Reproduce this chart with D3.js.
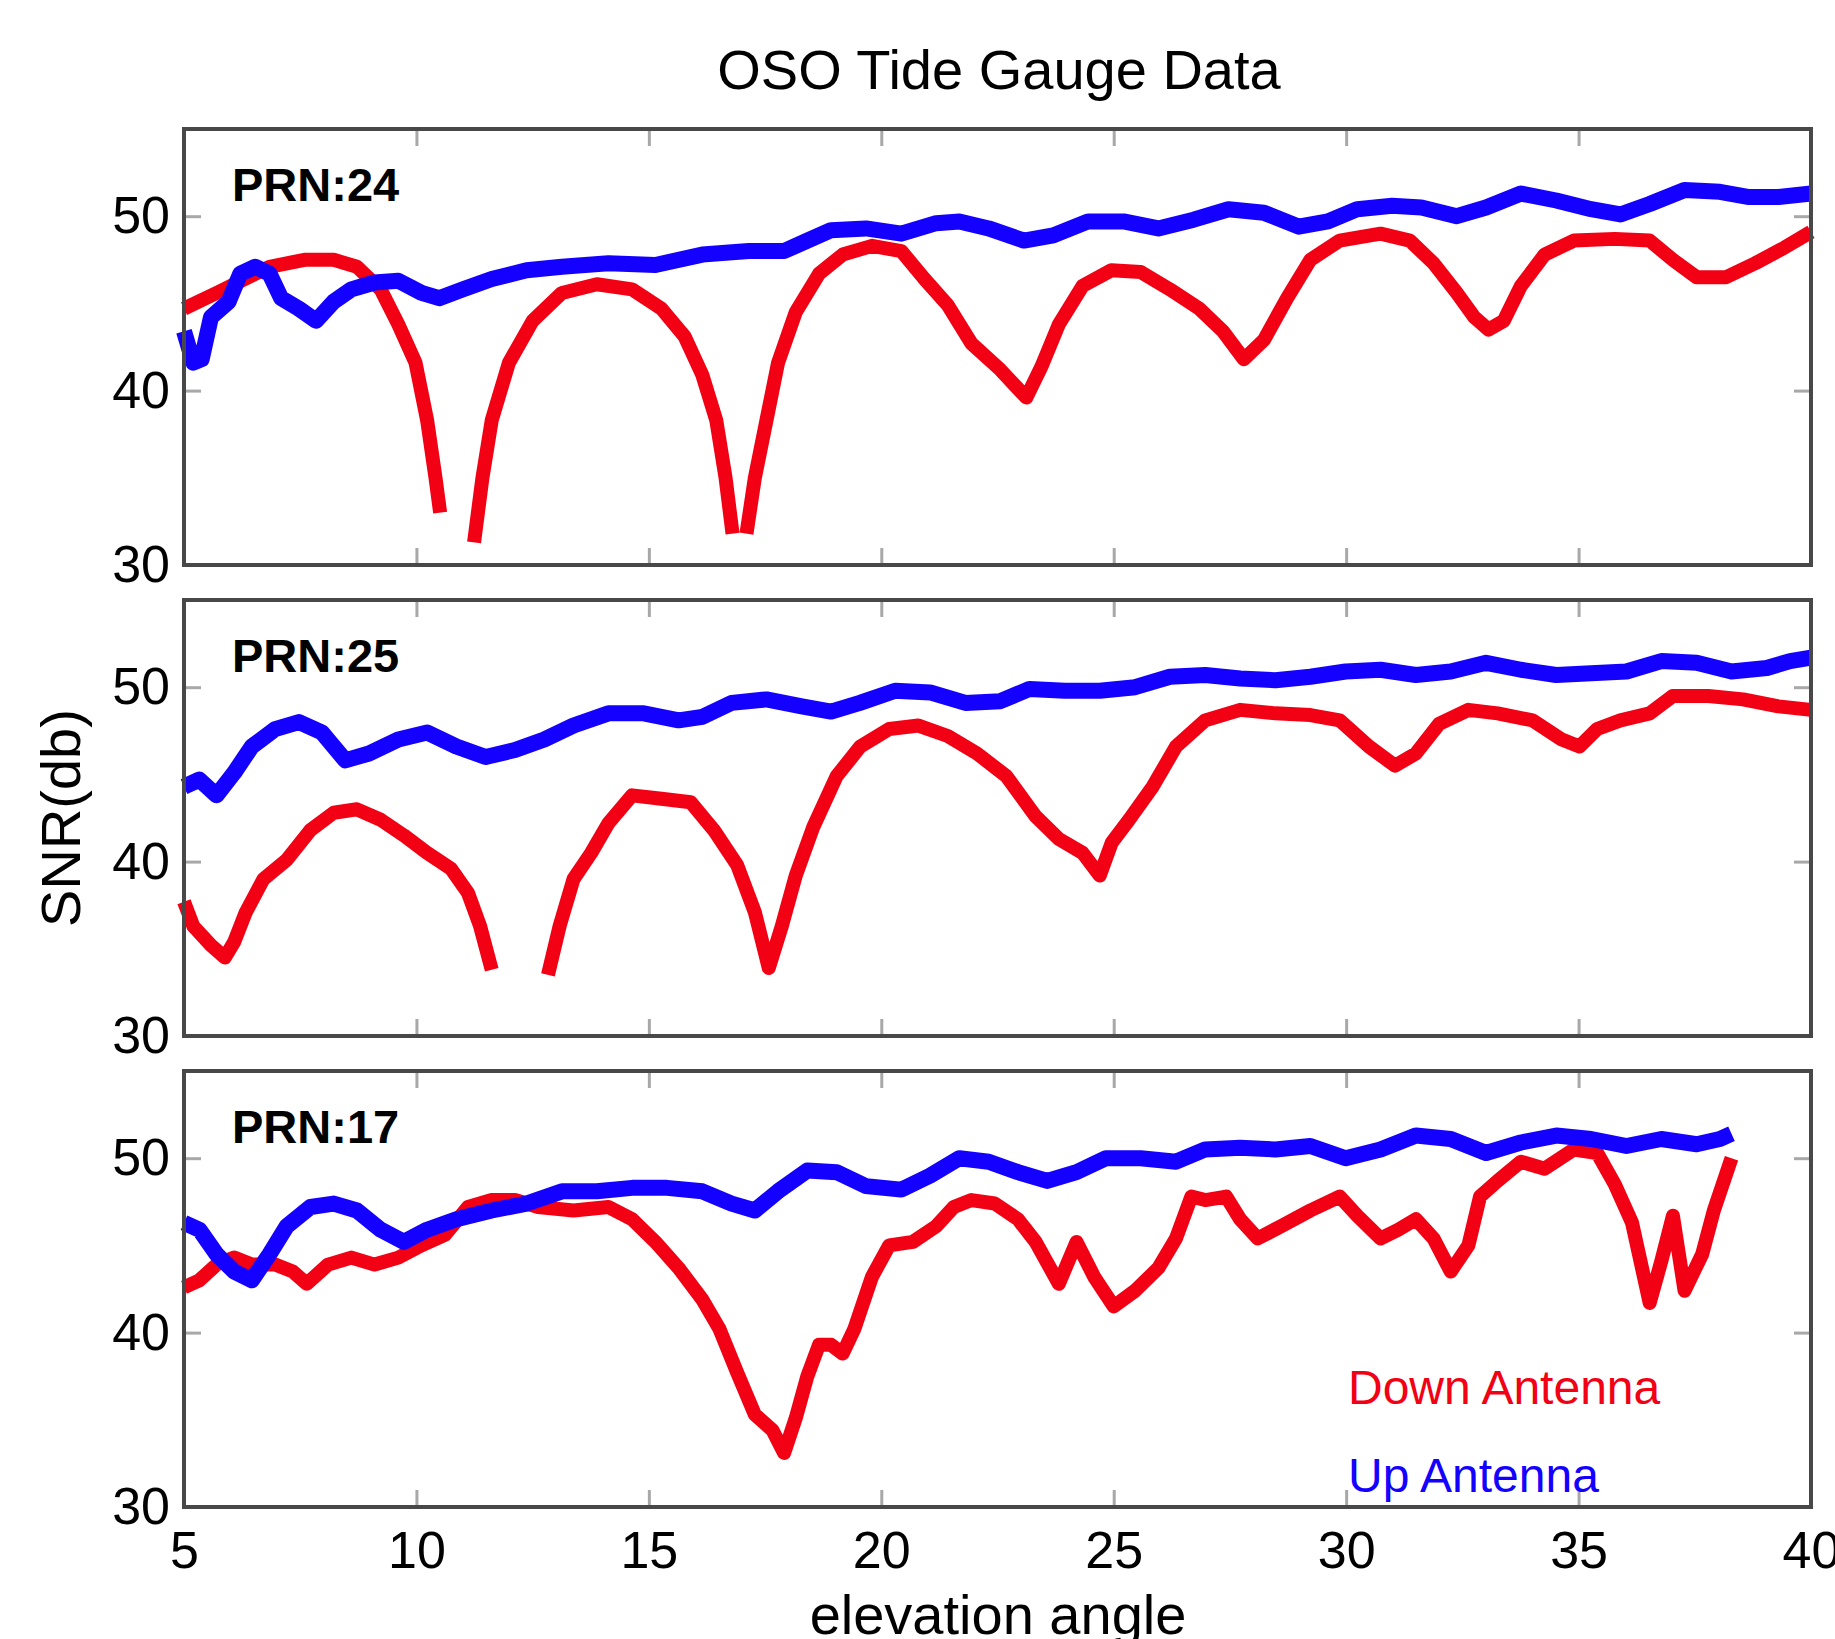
<!DOCTYPE html>
<html>
<head>
<meta charset="utf-8">
<script src="https://cdn.jsdelivr.net/npm/d3@7"></script>
<style>
  body { margin: 0; background: #fff; }
  svg { display: block; font-family: "Liberation Sans", Arial, Helvetica, sans-serif; }
</style>
</head>
<body>
<div class="container"></div>
<script>
/* Elevation angle vs SNR, [elevation, snr]; null = gap in the track */
const prn24Down = [[5.00,44.7],[5.70,45.6],[6.08,46.1],[6.84,47.1],[7.59,47.5],[8.22,47.5],[8.72,47.1],[9.23,45.8],[9.61,43.8],[9.98,41.6],[10.23,38.3],[10.41,35.0],[10.51,33.0],[10.8,null],
  [11.24,31.3],[11.42,35.0],[11.62,38.3],[11.99,41.6],[12.50,44.0],[13.13,45.6],[13.88,46.1],[14.64,45.8],[15.27,44.7],[15.77,43.1],[16.15,40.9],[16.45,38.3],[16.65,35.0],[16.80,31.8],[16.95,null],
  [17.10,31.8],[17.28,35.0],[17.53,38.3],[17.78,41.6],[18.16,44.5],[18.66,46.7],[19.17,47.8],[19.80,48.3],[20.43,48.0],[20.93,46.4],[21.43,44.9],[21.94,42.7],[22.56,41.2],[23.12,39.6],[23.45,41.4],[23.82,43.8],[24.33,46.0],[24.95,46.9],[25.58,46.8],[26.21,45.8],[26.84,44.7],[27.35,43.4],[27.80,41.8],[28.23,42.9],[28.73,45.3],[29.23,47.5],[29.86,48.6],[30.74,49.0],[31.37,48.6],[31.88,47.3],[32.38,45.6],[32.76,44.2],[33.06,43.5],[33.39,44.0],[33.76,46.0],[34.27,47.8],[34.90,48.6],[35.78,48.7],[36.53,48.6],[37.03,47.5],[37.54,46.5],[38.17,46.5],[38.80,47.3],[39.43,48.2],[40.00,49.1]];
const prn24Up = [[5.00,43.4],[5.20,41.6],[5.38,41.8],[5.58,44.2],[5.96,45.1],[6.21,46.7],[6.53,47.1],[6.84,46.7],[7.09,45.3],[7.47,44.7],[7.84,44.0],[8.22,45.1],[8.60,45.8],[9.10,46.2],[9.61,46.3],[10.11,45.6],[10.49,45.3],[10.99,45.8],[11.62,46.4],[12.37,46.9],[13.13,47.1],[14.13,47.3],[15.14,47.2],[16.15,47.8],[17.15,48.0],[17.91,48.0],[18.41,48.6],[18.92,49.2],[19.67,49.3],[20.43,49.0],[21.18,49.6],[21.68,49.7],[22.31,49.3],[23.07,48.6],[23.70,48.9],[24.45,49.7],[25.21,49.7],[25.96,49.3],[26.72,49.8],[27.47,50.4],[28.23,50.2],[28.98,49.4],[29.61,49.7],[30.24,50.4],[30.99,50.6],[31.62,50.5],[32.38,50.0],[33.01,50.5],[33.76,51.3],[34.52,50.9],[35.27,50.4],[35.90,50.1],[36.53,50.7],[37.28,51.5],[38.04,51.4],[38.67,51.1],[39.30,51.1],[40.00,51.3]];

const prn25Down = [[5.00,37.7],[5.20,36.3],[5.58,35.2],[5.88,34.5],[6.08,35.4],[6.33,37.1],[6.71,39.0],[7.21,40.1],[7.72,41.8],[8.22,42.8],[8.72,43.0],[9.23,42.4],[9.73,41.5],[10.23,40.5],[10.74,39.6],[11.11,38.2],[11.37,36.3],[11.62,33.8],[12.2,null],
  [12.83,33.5],[13.08,36.3],[13.38,39.0],[13.76,40.5],[14.13,42.2],[14.64,43.8],[15.27,43.6],[15.90,43.4],[16.40,41.8],[16.90,39.8],[17.28,37.1],[17.58,33.9],[17.86,36.3],[18.16,39.2],[18.54,42.0],[19.04,44.9],[19.55,46.6],[20.17,47.6],[20.80,47.8],[21.43,47.2],[22.06,46.2],[22.69,44.9],[23.32,42.6],[23.82,41.3],[24.33,40.5],[24.70,39.2],[24.96,41.1],[25.33,42.4],[25.84,44.3],[26.34,46.6],[26.97,48.1],[27.72,48.7],[28.48,48.5],[29.23,48.4],[29.86,48.1],[30.49,46.6],[31.05,45.5],[31.50,46.2],[32.00,47.9],[32.63,48.7],[33.26,48.5],[34.01,48.1],[34.64,47.0],[35.02,46.6],[35.40,47.6],[35.90,48.1],[36.53,48.5],[37.03,49.5],[37.79,49.5],[38.54,49.3],[39.30,48.9],[40.00,48.7]];
const prn25Up = [[5.00,44.3],[5.33,44.7],[5.70,43.8],[6.08,45.1],[6.46,46.6],[6.96,47.6],[7.47,48.0],[7.97,47.4],[8.47,45.8],[8.98,46.2],[9.61,47.0],[10.23,47.4],[10.86,46.6],[11.49,46.0],[12.12,46.4],[12.75,47.0],[13.38,47.8],[14.13,48.5],[14.89,48.5],[15.64,48.1],[16.15,48.3],[16.78,49.1],[17.53,49.3],[18.29,48.9],[18.92,48.6],[19.54,49.1],[20.30,49.8],[21.05,49.7],[21.81,49.1],[22.56,49.2],[23.19,49.9],[23.95,49.8],[24.70,49.8],[25.46,50.0],[26.21,50.6],[26.97,50.7],[27.72,50.5],[28.48,50.4],[29.23,50.6],[29.99,50.9],[30.74,51.0],[31.50,50.7],[32.25,50.9],[33.01,51.4],[33.76,51.0],[34.52,50.7],[35.27,50.8],[36.03,50.9],[36.78,51.5],[37.54,51.4],[38.29,50.9],[39.05,51.1],[39.55,51.5],[40.00,51.7]];

const prn17Down = [[5.00,42.6],[5.33,43.0],[5.70,43.9],[6.08,44.3],[6.46,43.9],[6.96,43.9],[7.34,43.5],[7.64,42.8],[8.10,43.9],[8.60,44.3],[9.10,43.9],[9.61,44.3],[10.11,45.0],[10.61,45.6],[11.11,47.2],[11.62,47.6],[12.12,47.6],[12.62,47.2],[13.38,47.0],[14.13,47.2],[14.64,46.5],[15.14,45.2],[15.64,43.7],[16.15,41.9],[16.52,40.2],[16.90,37.7],[17.28,35.3],[17.66,34.4],[17.91,33.1],[18.16,35.1],[18.41,37.5],[18.66,39.3],[18.92,39.3],[19.17,38.8],[19.42,40.2],[19.80,43.2],[20.17,45.0],[20.68,45.2],[21.18,46.1],[21.56,47.2],[21.94,47.6],[22.44,47.4],[22.94,46.5],[23.32,45.2],[23.82,42.8],[24.20,45.2],[24.58,43.2],[25.00,41.5],[25.46,42.4],[25.96,43.7],[26.34,45.4],[26.67,47.8],[26.97,47.6],[27.42,47.8],[27.72,46.5],[28.10,45.4],[28.60,46.1],[29.23,47.0],[29.86,47.8],[30.24,46.7],[30.74,45.4],[31.12,45.9],[31.50,46.5],[31.88,45.4],[32.25,43.5],[32.63,45.0],[32.88,47.8],[33.26,48.7],[33.76,49.8],[34.27,49.4],[34.90,50.5],[35.40,50.3],[35.78,48.5],[36.15,46.3],[36.53,41.7],[36.78,44.1],[37.03,46.7],[37.28,42.4],[37.66,44.5],[37.91,47.0],[38.29,50.0]];
const prn17Up = [[5.00,46.3],[5.33,45.9],[5.70,44.5],[6.08,43.5],[6.46,43.0],[6.84,44.5],[7.21,46.1],[7.72,47.2],[8.22,47.4],[8.72,47.0],[9.23,45.9],[9.73,45.2],[10.23,45.9],[10.86,46.5],[11.62,47.0],[12.37,47.4],[13.13,48.1],[13.88,48.1],[14.64,48.3],[15.39,48.3],[16.15,48.1],[16.78,47.4],[17.28,47.0],[17.78,48.1],[18.41,49.3],[19.04,49.2],[19.67,48.4],[20.43,48.2],[21.05,49.0],[21.68,50.0],[22.31,49.8],[22.94,49.2],[23.57,48.7],[24.20,49.2],[24.83,50.0],[25.58,50.0],[26.34,49.8],[26.97,50.5],[27.72,50.6],[28.48,50.5],[29.23,50.7],[29.99,50.0],[30.74,50.5],[31.50,51.3],[32.25,51.1],[33.01,50.3],[33.76,50.9],[34.52,51.3],[35.27,51.1],[36.03,50.7],[36.78,51.1],[37.54,50.8],[38.04,51.1],[38.29,51.4]];

const panelLabels = ["PRN:24", "PRN:25", "PRN:17"];
const xTicks = [5, 10, 15, 20, 25, 30, 35, 40];
const yTicks = [30, 40, 50];
const legendLabels = ["Down Antenna", "Up Antenna"];

const w = 1835;
const h = 1639;

/* plot area of each panel */
const left = 184, right = 1811;
const panelTops = [129, 600, 1071];
const panelH = 436;

const downColor = "#f20014";
const upColor = "#1400ff";

const panels = [
  { label: panelLabels[0], down: prn24Down, up: prn24Up },
  { label: panelLabels[1], down: prn25Down, up: prn25Up },
  { label: panelLabels[2], down: prn17Down, up: prn17Up }
];

const xScale = d3.scaleLinear().domain([5, 40]).range([left, right]);

const svg = d3.select(".container")
  .append("svg")
  .attr("width", w)
  .attr("height", h);

/* Title */
svg.append("text")
  .attr("x", 999)
  .attr("y", 89)
  .attr("text-anchor", "middle")
  .style("font-size", "56px")
  .text("OSO Tide Gauge Data");

panels.forEach((p, i) => {
  const top = panelTops[i];
  const yScale = d3.scaleLinear().domain([30, 55]).range([top + panelH, top]);
  const g = svg.append("g");

  const line = d3.line()
    .defined((d) => d[1] !== null)
    .x((d) => xScale(d[0]))
    .y((d) => yScale(d[1]));

  /* tick marks, inside the frame */
  const isLast = i === panels.length - 1;
  const bottomAxis = d3.axisBottom(xScale).tickValues(xTicks).tickSize(-17).tickPadding(24);
  if (!isLast) bottomAxis.tickFormat("");
  g.append("g")
    .attr("class", "axis")
    .attr("transform", `translate(0, ${top + panelH})`)
    .call(bottomAxis);

  g.append("g")
    .attr("class", "axis")
    .attr("transform", `translate(0, ${top})`)
    .call(d3.axisTop(xScale).tickValues(xTicks).tickSize(-17).tickFormat(""));

  g.append("g")
    .attr("class", "axis")
    .attr("transform", `translate(${left}, 0)`)
    .call(d3.axisLeft(yScale).tickValues(yTicks).tickSize(-17).tickPadding(14));

  g.append("g")
    .attr("class", "axis")
    .attr("transform", `translate(${right}, 0)`)
    .call(d3.axisRight(yScale).tickValues(yTicks).tickSize(-17).tickFormat(""));

  g.selectAll(".axis .domain").remove();
  g.selectAll(".axis line")
    .attr("stroke", "#a8a8a8")
    .attr("stroke-width", 3);
  g.selectAll(".axis text")
    .attr("fill", "#000")
    .style("font-family", "'Liberation Sans', Arial, sans-serif")
    .style("font-size", "52px");

  /* data lines */
  g.append("path")
    .datum(p.down)
    .attr("fill", "none")
    .attr("stroke", downColor)
    .attr("stroke-width", 14)
    .attr("stroke-linejoin", "round")
    .attr("d", line);

  g.append("path")
    .datum(p.up)
    .attr("fill", "none")
    .attr("stroke", upColor)
    .attr("stroke-width", 16)
    .attr("stroke-linejoin", "round")
    .attr("d", line);

  /* frame */
  g.append("rect")
    .attr("x", left)
    .attr("y", top)
    .attr("width", right - left)
    .attr("height", panelH)
    .attr("fill", "none")
    .attr("stroke", "#484848")
    .attr("stroke-width", 4);

  g.append("text")
    .attr("x", 232)
    .attr("y", top + 72)
    .style("font-size", "47px")
    .style("font-weight", "bold")
    .text(p.label);
});

/* axis titles */
svg.append("text")
  .attr("x", 998)
  .attr("y", 1634)
  .attr("text-anchor", "middle")
  .style("font-size", "56px")
  .text("elevation angle");

svg.append("text")
  .attr("transform", "translate(80, 818) rotate(-90)")
  .attr("text-anchor", "middle")
  .style("font-size", "56px")
  .text("SNR(db)");

/* legend text */
svg.append("text")
  .attr("x", 1348)
  .attr("y", 1404)
  .attr("fill", downColor)
  .style("font-size", "48px")
  .text(legendLabels[0]);

svg.append("text")
  .attr("x", 1348)
  .attr("y", 1492)
  .attr("fill", upColor)
  .style("font-size", "48px")
  .text(legendLabels[1]);
</script>
</body>
</html>
